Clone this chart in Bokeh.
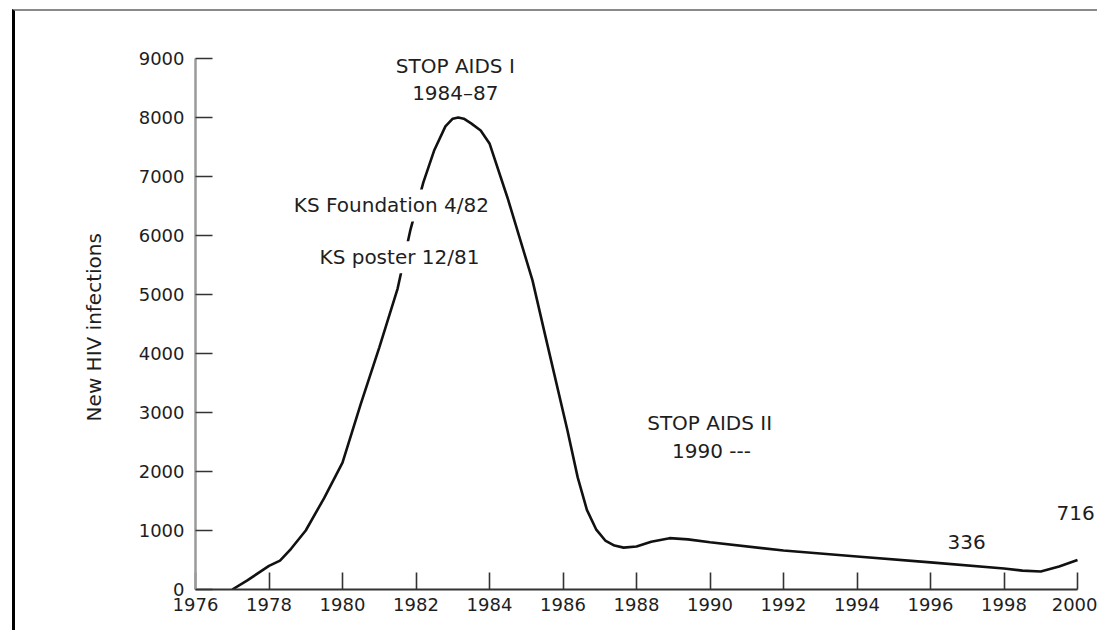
from bokeh.plotting import figure
from bokeh.models import Range1d, Label, FixedTicker
from bokeh.embed import file_html
from bokeh.resources import INLINE

# ---- data ----
years = [1977.0, 1977.4, 1978.0, 1978.3, 1978.6, 1979.0, 1979.5, 1980.0, 1980.5,
         1981.0, 1981.5, 1981.85, 1982.2, 1982.5, 1982.8, 1983.0, 1983.15, 1983.3,
         1983.5, 1983.76, 1984.0, 1984.49, 1985.17, 1985.5, 1986.12, 1986.4,
         1986.65, 1986.9, 1987.15, 1987.4, 1987.65, 1988.0, 1988.4, 1988.9,
         1989.4, 1990.0, 1992.0, 1994.0, 1996.0, 1998.0, 1998.5, 1999.0,
         1999.5, 2000.0]
infections = [0, 150, 400, 490, 690, 1000, 1550, 2150, 3150,
              4100, 5100, 6100, 6900, 7450, 7850, 7980, 8000, 7980,
              7900, 7780, 7560, 6640, 5240, 4350, 2700, 1900,
              1350, 1020, 830, 745, 710, 730, 810, 870,
              850, 800, 660, 560, 460, 355, 320, 305,
              390, 500]

x_ticks = list(range(1976, 2001, 2))
y_ticks = list(range(0, 9001, 1000))

notes = ["STOP AIDS I", "1984\u201387", "KS Foundation 4/82", "KS poster 12/81",
         "STOP AIDS II", "1990 ---", "336", "716"]
note_x = [1983.07, 1983.07, 1981.33, 1981.55, 1989.99, 1990.04, 1996.98, 1999.95]
note_y = [8880, 8420, 6510, 5630, 2815, 2355, 800, 1305]

FONT = "DejaVu Sans"
INK = "#1e1e1e"

p = figure(width=1085, height=621, output_backend="svg", toolbar_location=None,
           x_range=Range1d(1976, 1976 + 905 / 36.75), y_range=Range1d(0, 9644),
           min_border_left=180, min_border_right=0, min_border_top=9,
           min_border_bottom=43,
           styles={"border-top": "2px solid #8a8a8a",
                   "border-left": "3px solid #000000",
                   "margin-left": "12px", "margin-top": "9px"})
p.outline_line_color = None
p.grid.visible = False
p.background_fill_color = "white"
p.border_fill_color = "white"

p.line(years, infections, line_color="#111111", line_width=2.6)

for ax in (p.xaxis[0], p.yaxis[0]):
    ax.major_tick_in = 17
    ax.major_tick_out = 0
    ax.minor_tick_line_color = None
    ax.major_tick_line_color = "#333333"
    ax.major_tick_line_width = 1.6
    ax.major_label_text_font = FONT
    ax.major_label_text_font_size = "18px"
    ax.major_label_text_color = INK

p.xaxis.ticker = FixedTicker(ticks=x_ticks)
p.yaxis.ticker = FixedTicker(ticks=y_ticks)
p.xaxis.bounds = (1976, 2000)
p.yaxis.bounds = (0, 9000)
p.xaxis.axis_line_color = "#333333"
p.xaxis.axis_line_width = 2
p.yaxis.axis_line_color = "#9a9a9a"
p.yaxis.axis_line_width = 2.5
p.xaxis.major_label_standoff = 8
p.yaxis.major_label_standoff = 11

p.yaxis.axis_label = "New HIV infections" + "\u00a0" * 7
p.yaxis.axis_label_text_font = FONT
p.yaxis.axis_label_text_font_size = "20px"
p.yaxis.axis_label_text_font_style = "normal"
p.yaxis.axis_label_text_color = INK
p.yaxis.axis_label_standoff = 30

for t, x, y in zip(notes, note_x, note_y):
    p.add_layout(Label(x=x, y=y, text=t, text_align="center", text_baseline="middle",
                       text_font=FONT, text_font_size="20px", text_color=INK,
                       background_fill_color="white", padding=4))

open("out.html", "w").write(file_html(p, INLINE))
